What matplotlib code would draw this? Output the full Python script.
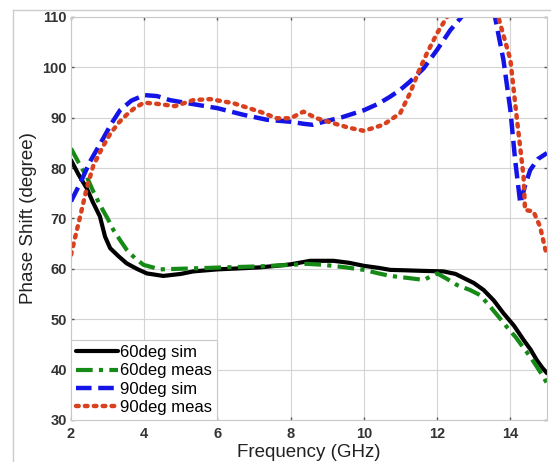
import matplotlib
matplotlib.use("Agg")
import matplotlib.pyplot as plt
from matplotlib.lines import Line2D

plt.rcParams['font.family'] = ['Liberation Sans', 'DejaVu Sans']

# 60deg sim (black solid)
f_60sim = [2.0, 2.2, 2.43, 2.6, 2.79, 2.93, 3.07, 3.3, 3.52, 3.8, 4.07, 4.52, 5.0, 5.34, 6.0, 6.6, 7.16, 7.6, 8.0, 8.53, 9.17, 9.6, 10.0, 10.4, 10.72, 11.2, 11.63, 12.17, 12.5, 12.72, 13.0, 13.27, 13.55, 13.81, 14.1, 14.36, 14.55, 14.72, 14.88, 15.0]
p_60sim = [81.6, 78.8, 76.0, 73.2, 70.4, 66.4, 64.1, 62.5, 61.1, 60.0, 59.1, 58.6, 59.0, 59.5, 59.9, 60.1, 60.3, 60.6, 60.9, 61.6, 61.6, 61.2, 60.6, 60.2, 59.8, 59.7, 59.6, 59.5, 59.0, 58.2, 57.2, 55.8, 53.7, 51.2, 48.7, 45.9, 44.0, 41.9, 40.3, 39.3]

# 60deg meas (green dash-dot)
f_60meas = [2.0, 2.2, 2.43, 2.6, 2.79, 3.0, 3.16, 3.35, 3.52, 3.75, 3.98, 4.43, 5.34, 6.2, 7.16, 8.0, 8.44, 8.9, 9.5, 10.0, 10.4, 10.72, 11.2, 11.63, 12.0, 12.27, 12.54, 12.9, 13.17, 13.45, 13.7, 13.9, 14.15, 14.36, 14.55, 14.72, 14.88, 15.0]
p_60meas = [83.9, 81.2, 78.3, 75.5, 72.7, 70.0, 67.7, 65.6, 63.8, 62.1, 60.8, 59.9, 60.1, 60.3, 60.5, 60.8, 61.0, 60.8, 60.3, 59.8, 59.1, 58.6, 58.2, 57.8, 59.1, 58.0, 56.8, 55.8, 54.8, 52.5, 50.3, 48.5, 46.4, 44.3, 42.5, 40.6, 38.8, 37.3]

# 90deg sim (blue dashed)
f_90sim = [2.0, 2.25, 2.52, 2.88, 3.1, 3.34, 3.65, 4.0, 4.35, 4.7, 5.34, 6.0, 6.7, 7.35, 8.0, 8.35, 8.6, 8.9, 9.4, 10.0, 10.4, 10.72, 11.0, 11.26, 11.63, 12.0, 12.36, 12.63, 12.9, 13.1, 13.35, 13.58, 13.81, 14.0, 14.13, 14.27, 14.4, 14.54, 14.75, 15.0]
p_90sim = [73.4, 77.0, 81.3, 85.9, 88.8, 91.5, 93.4, 94.5, 94.3, 93.5, 92.7, 91.9, 90.6, 89.6, 89.2, 88.8, 88.6, 89.2, 90.1, 91.5, 92.8, 94.2, 95.6, 97.2, 99.8, 103.5, 107.4, 109.7, 112.0, 113.0, 112.5, 110.0, 101.5, 91.5, 81.6, 73.0, 76.5, 79.6, 81.8, 83.0]

# 90deg meas (red dotted)
f_90meas = [2.0, 2.12, 2.25, 2.43, 2.61, 2.85, 3.07, 3.3, 3.52, 3.75, 4.0, 4.43, 4.84, 5.34, 5.8, 6.43, 7.16, 7.62, 8.0, 8.26, 8.35, 8.71, 9.17, 9.6, 10.0, 10.53, 10.99, 11.26, 11.49, 11.72, 12.0, 12.27, 12.6, 13.0, 13.4, 13.67, 14.0, 14.18, 14.36, 14.4, 14.63, 14.81, 14.98]
p_90meas = [62.8, 66.5, 70.4, 76.0, 80.5, 84.0, 86.8, 89.0, 90.6, 92.0, 93.0, 92.7, 92.3, 93.5, 93.7, 92.9, 91.2, 89.9, 89.9, 90.9, 91.2, 89.9, 88.9, 88.0, 87.4, 88.6, 90.9, 94.9, 99.1, 102.8, 106.8, 110.0, 113.0, 114.5, 113.0, 110.0, 101.5, 89.6, 78.3, 71.7, 71.4, 68.4, 63.1]

x_ticks = [2, 4, 6, 8, 10, 12, 14]
y_ticks = [30, 40, 50, 60, 70, 80, 90, 100, 110]
labels = ['60deg sim', '60deg meas', '90deg sim', '90deg meas']

fig = plt.figure(figsize=(5.51, 4.62), dpi=100)
ax = fig.add_axes([71/551, 1 - 420/462, (547 - 71)/551, (420 - 17)/462])

ax.plot(f_60sim, p_60sim, color='black', lw=3.0, solid_capstyle='round', label=labels[0])
ax.plot(f_60meas, p_60meas, color='#168a16', lw=3.0, linestyle=(0, (4, 1.5, 1, 1.5)), label=labels[1])
ax.plot(f_90sim, p_90sim, color='#1414e6', lw=3.2, linestyle=(0, (3.5, 1.5)), label=labels[2])
ax.plot(f_90meas, p_90meas, color='#d8401e', lw=3.2, linestyle=(0, (0.6, 1.4)), dash_capstyle='round', label=labels[3])

ax.set_xlim(2, 15)
ax.set_ylim(30, 110)
ax.set_xticks(x_ticks)
ax.set_yticks(y_ticks)
ax.grid(True, color='#d4d4d4', lw=0.8)
ax.set_axisbelow(True)
for s in ax.spines.values():
    s.set_color('#c8c8c8')
    s.set_linewidth(0.8)
ax.tick_params(direction='in', length=2, width=1, color='#555555', labelsize=10.5,
               labelcolor='#333333', top=True, right=True, pad=3)
ax.tick_params(axis='x', pad=5)
for lab in ax.get_xticklabels() + ax.get_yticklabels():
    lab.set_fontweight('bold')

ax.set_xlabel('Frequency (GHz)', fontsize=13.5, color='#222222', labelpad=2)
ax.set_ylabel('Phase Shift (degree)', fontsize=13.5, color='#222222', labelpad=4)

leg = ax.legend(loc='lower left', fontsize=12, handlelength=2.5, handletextpad=0.15,
                borderaxespad=0.0, fancybox=False, edgecolor='#c8c8c8', framealpha=1,
                labelspacing=0.2, borderpad=0.3)
leg.get_frame().set_linewidth(0.8)

# outer screenshot frame
fig.add_artist(Line2D([12.5/551, 1], [1 - 10/462, 1 - 10/462], color='#cccccc', lw=1, transform=fig.transFigure))
fig.add_artist(Line2D([12.5/551, 12.5/551], [0, 1 - 10/462], color='#cccccc', lw=1, transform=fig.transFigure))

fig.savefig('out.png', dpi=100)
